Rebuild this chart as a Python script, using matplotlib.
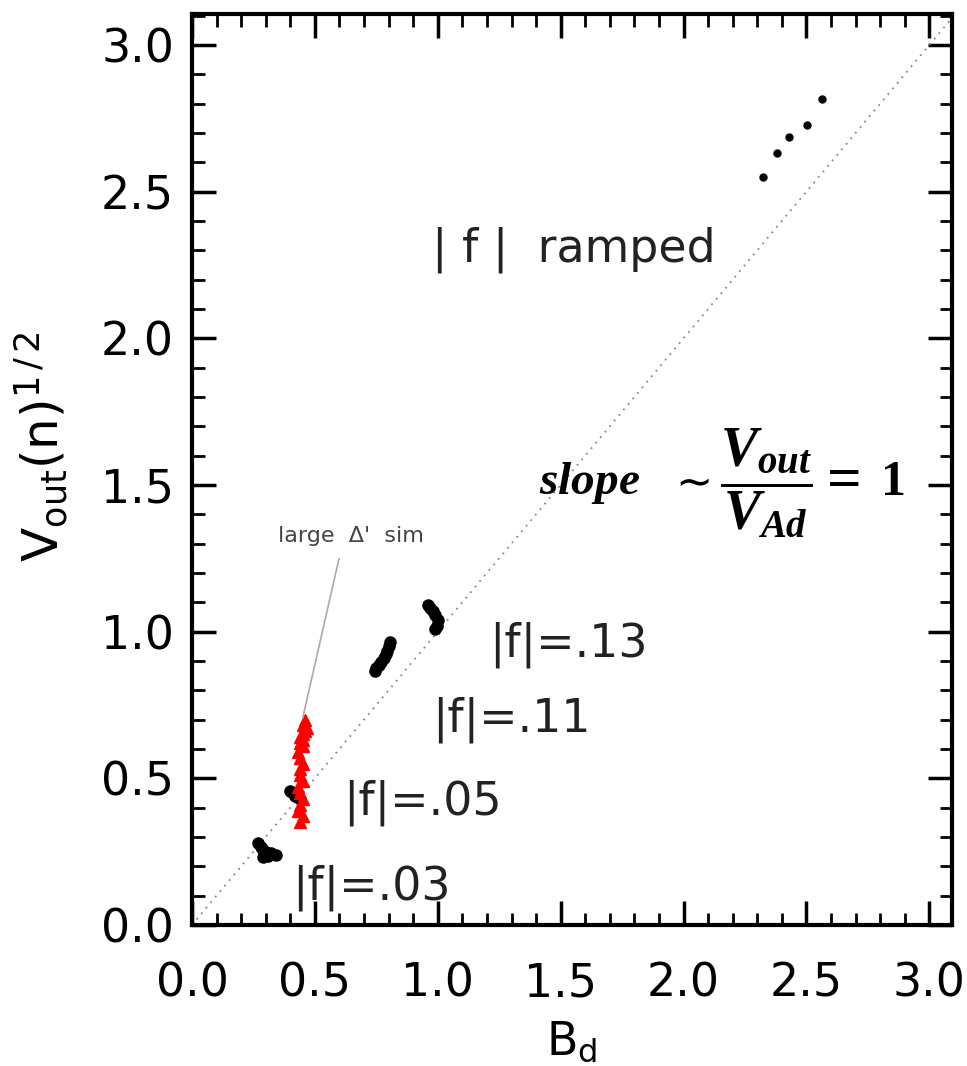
import numpy as np
import matplotlib.pyplot as plt
from matplotlib.ticker import MultipleLocator

# ramped |f| run
ramp_x = [2.325, 2.378, 2.427, 2.504, 2.565]
ramp_y = [2.548, 2.633, 2.687, 2.728, 2.816]

# fixed |f| runs (traced clusters)
f13_x = [0.96, 0.97, 0.98, 0.99, 1.00, 0.995, 0.99]
f13_y = [1.09, 1.08, 1.07, 1.055, 1.04, 1.02, 1.01]
f11_x = [0.805, 0.80, 0.795, 0.79, 0.78, 0.77, 0.76, 0.75, 0.745]
f11_y = [0.965, 0.95, 0.935, 0.925, 0.91, 0.895, 0.885, 0.875, 0.865]
f05_x = [0.40, 0.41, 0.42, 0.44]
f05_y = [0.455, 0.45, 0.44, 0.43]
f03_x = [0.27, 0.28, 0.29, 0.30, 0.32, 0.34, 0.31, 0.29]
f03_y = [0.28, 0.265, 0.255, 0.25, 0.245, 0.24, 0.235, 0.23]

# large Delta' simulation
red_x = [0.44, 0.45, 0.43, 0.44, 0.45, 0.44, 0.43, 0.45, 0.44, 0.44, 0.45,
         0.44, 0.43, 0.45, 0.44, 0.45, 0.44, 0.45, 0.46, 0.47, 0.45, 0.46]
red_y = [0.35, 0.37, 0.39, 0.41, 0.43, 0.45, 0.47, 0.49, 0.51, 0.53, 0.55,
         0.57, 0.59, 0.61, 0.62, 0.63, 0.64, 0.65, 0.66, 0.67, 0.68, 0.70]

plt.rcParams['font.family'] = ['DejaVu Sans']
plt.rcParams['mathtext.it'] = 'Liberation Serif:italic:bold'
plt.rcParams['mathtext.rm'] = 'Liberation Serif:bold'
plt.rcParams['mathtext.bf'] = 'Liberation Serif:bold'

fig = plt.figure(figsize=(9.67, 10.66), dpi=100)
ax = fig.add_axes([0.1985, 0.1323, 0.7855, 0.8545])

ax.plot([0, 3.1], [0, 3.1], ls=(0, (1, 3)), color='#888888', lw=1.3)

ax.plot(ramp_x, ramp_y, 'o', color='black', ms=5)
for cx, cy in [(f13_x, f13_y), (f11_x, f11_y), (f05_x, f05_y), (f03_x, f03_y)]:
    ax.plot(cx, cy, 'o', color='black', ms=8)

ax.plot(red_x, red_y, '^', color='red', ms=9, mec='red')
ax.plot([0.0], [0.0], 's', color='red', ms=3)

# annotation leader for the red run
ax.plot([0.598, 0.451], [1.248, 0.707], color='#aaaaaa', lw=1.2)
ax.text(0.646, 1.327, "large  \u0394'  sim", fontsize=16, color='#444444',
        ha='center', va='center')

big = dict(fontsize=33, color='#222222', va='center')
ax.text(0.976, 2.30, '| f |  ramped', **big)
ax.text(1.21, 0.955, '|f|=.13', **big)
ax.text(0.976, 0.70, '|f|=.11', **big)
ax.text(0.614, 0.415, '|f|=.05', **big)
ax.text(0.407, 0.126, '|f|=.03', **big)

# slope ~ Vout/VAd = 1, built from pieces
ys = 1.507
ax.text(1.41, ys, r'$slope$', fontsize=34, va='center', ha='left',
        math_fontfamily='custom')
ax.text(2.02, ys, r'$\sim$', fontsize=32, va='center', ha='center')
ax.text(2.337, ys, r'$\dfrac{V_{out}}{V_{Ad}}$', fontsize=40, va='center',
        ha='center', math_fontfamily='custom')
ax.text(2.654, ys, '=', fontsize=44, va='center', ha='center',
        family='Liberation Serif', weight='bold')
ax.text(2.854, ys, '1', fontsize=36, va='center', ha='center',
        family='Liberation Serif', weight='bold')

ax.set_xlim(0, 3.09)
ax.set_ylim(0, 3.105)
ax.xaxis.set_major_locator(MultipleLocator(0.5))
ax.xaxis.set_minor_locator(MultipleLocator(0.1))
ax.yaxis.set_major_locator(MultipleLocator(0.5))
ax.yaxis.set_minor_locator(MultipleLocator(0.1))
ax.xaxis.set_major_formatter(lambda v, p: f'{v:.1f}')
ax.yaxis.set_major_formatter(lambda v, p: f'{v:.1f}')
ax.tick_params(which='both', direction='in', top=True, right=True)
ax.tick_params(which='major', length=17, width=2.5, labelsize=33)
ax.tick_params(which='minor', length=9, width=2)
ax.tick_params(axis='x', which='major', pad=26)
ax.tick_params(axis='y', which='major', pad=13)
for s in ax.spines.values():
    s.set_linewidth(3)

ax.set_xlabel(r'B$_{\rm d}$', fontsize=33, labelpad=10)
ax.set_ylabel(r'V$_{\rm out}$(n)$^{1\,/\,2}$', fontsize=36)
ax.yaxis.set_label_coords(-0.16, 0.525)

fig.savefig('out.png', dpi=100)
